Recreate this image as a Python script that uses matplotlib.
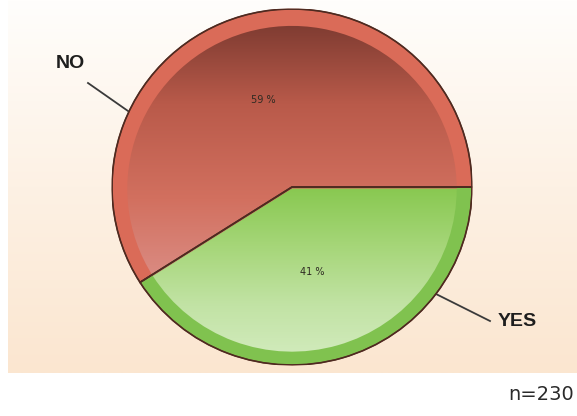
import numpy as np
import matplotlib.pyplot as plt
from matplotlib.patches import Wedge
from matplotlib.colors import LinearSegmentedColormap

# ── Data ──────────────────────────────────────────────────────────────────────
labels = ["NO", "YES"]
shares = [59, 41]
pct_text = ["59 %", "41 %"]
n_total = 230

ring_colors = ["#da6b58", "#80c24f"]
face_stops = [
    ["#74362d", "#b95a4a", "#d2705f", "#dc918a"],   # NO
    ["#88c850", "#a6d679", "#c2e3a5", "#d4ecc0"],   # YES
]

W, H = 577, 416
fig = plt.figure(figsize=(W / 100, H / 100), dpi=100)

# ── Background panel (pixel coordinates) ─────────────────────────────────────
bg = fig.add_axes([0, 0, 1, 1])
grad = np.linspace(0, 1, 256)[:, None]
cmap_bg = LinearSegmentedColormap.from_list("bg", ["#fffefc", "#fdf1e4", "#fbe6d0"])
bg.imshow(grad, cmap=cmap_bg, extent=(8, W, 373, 0), aspect="auto")
bg.set_xlim(0, W)
bg.set_ylim(H, 0)
bg.axis("off")

# leader lines + labels
label_pos = [(70, 63), (517, 322)]
leader = [((88, 83), (128, 111)), ((436, 294), (490, 321))]
for lab, (tx, ty), ((x0, y0), (x1, y1)) in zip(labels, label_pos, leader):
    bg.plot([x0, x1], [y0, y1], color="#3a3a3a", lw=1.3)
    bg.text(tx, ty, lab, ha="center", va="center", fontsize=14,
            fontweight="bold", color="#1e1e1e", family="Liberation Sans")

bg.text(574, 395, f"n={n_total}", ha="right", va="center", fontsize=14,
        color="#2a2a2a")

# ── Pie (gradient inner face inside a flat rim) ──────────────────────────────
pax = fig.add_axes([112 / W, (H - 365) / H, 360 / W, 356 / H])
outer, _ = pax.pie(shares, colors=ring_colors, startangle=0, counterclock=True,
                   radius=1.0,
                   wedgeprops=dict(edgecolor="#6b3a2e", linewidth=0.9))
inner, _ = pax.pie(shares, colors=["none", "none"], startangle=0,
                   counterclock=True, radius=0.915, center=(0, -0.01),
                   wedgeprops=dict(edgecolor="none", linewidth=0))

extents = [(-1, 1, -0.6, 1), (-1, 1, -1, 0)]
for w, stops, ext in zip(inner, face_stops, extents):
    cm = LinearSegmentedColormap.from_list("g", stops)
    im = pax.imshow(grad, cmap=cm, extent=ext, aspect="auto", zorder=2)
    im.set_clip_path(w)

# wedge outlines / dividers on top of the gradient
for w in outer:
    pax.add_patch(Wedge((0, 0), 1.0, w.theta1, w.theta2, facecolor="none",
                        edgecolor="#4e2a20", linewidth=1.2, zorder=3))

pct_pos = [(-0.16, 0.49), (0.115, -0.48)]
for txt, (px, py) in zip(pct_text, pct_pos):
    pax.text(px, py, txt, ha="center", va="center", fontsize=7,
             color="#2e2a22", zorder=4)

pax.set_aspect("auto")
pax.set_xlim(-1, 1)
pax.set_ylim(-1, 1)
pax.axis("off")

fig.savefig("out.png", dpi=100)
